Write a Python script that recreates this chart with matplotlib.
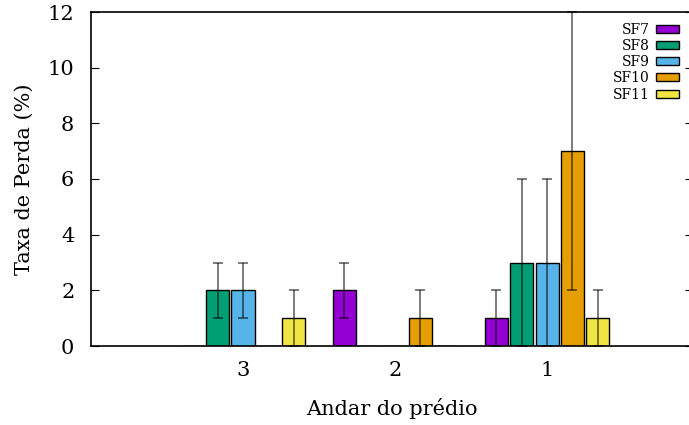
import matplotlib
matplotlib.use("Agg")
import matplotlib.pyplot as plt
import numpy as np

# ── Data ──────────────────────────────────────────────────────────────────────
floors = ["3", "2", "1"]
series = ["SF7", "SF8", "SF9", "SF10", "SF11"]
loss = {
    "SF7":  [0, 2, 1],
    "SF8":  [2, 0, 3],
    "SF9":  [2, 0, 3],
    "SF10": [0, 1, 7],
    "SF11": [1, 0, 1],
}
loss_err = {
    "SF7":  [0, 1, 1],
    "SF8":  [1, 0, 3],
    "SF9":  [1, 0, 3],
    "SF10": [0, 1, 5],
    "SF11": [1, 0, 1],
}
colors = ["#9400d3", "#009e73", "#56b4e9", "#e69f00", "#f0e442"]

plt.rcParams["font.family"] = "DejaVu Serif"

fig = plt.figure(figsize=(6.89, 4.25), dpi=100)
ax = fig.add_axes([91 / 689, 79 / 425, 602 / 689, 334 / 425])

x = np.arange(len(floors))
pitch = 1 / 6
width = 0.152

for i, (name, color) in enumerate(zip(series, colors)):
    pos = x + (i - 2) * pitch
    ax.bar(pos, loss[name], width=width, color=color, edgecolor="black",
           linewidth=1.0, label=name, zorder=2)
    vals = np.array(loss[name])
    errs = np.array(loss_err[name])
    m = errs > 0
    ax.errorbar(pos[m], vals[m], yerr=errs[m], fmt="none", ecolor="black",
                alpha=0.6, elinewidth=1.2, capsize=3.8, capthick=1.2,
                zorder=3, clip_on=False)

ax.set_xlim(-1, 2.96)
ax.set_ylim(0, 12)
ax.set_xticks(x)
ax.set_xticklabels(floors)
ax.set_yticks(range(0, 13, 2))

ax.tick_params(axis="y", direction="in", length=6, right=True, labelsize=15,
               pad=12)
ax.tick_params(axis="x", length=0, labelsize=15, pad=11)

for s in ax.spines.values():
    s.set_linewidth(1.2)

ax.set_xlabel("Andar do prédio", fontsize=15, labelpad=13)
ax.set_ylabel("Taxa de Perda (%)", fontsize=15, labelpad=10)

ax.legend(loc="upper right", bbox_to_anchor=(0.99, 0.993), frameon=False,
          markerfirst=False, fontsize=10, handlelength=1.6, handleheight=0.5,
          labelspacing=0.16, handletextpad=0.5, borderaxespad=0.2)

fig.savefig("out.png", dpi=100)
